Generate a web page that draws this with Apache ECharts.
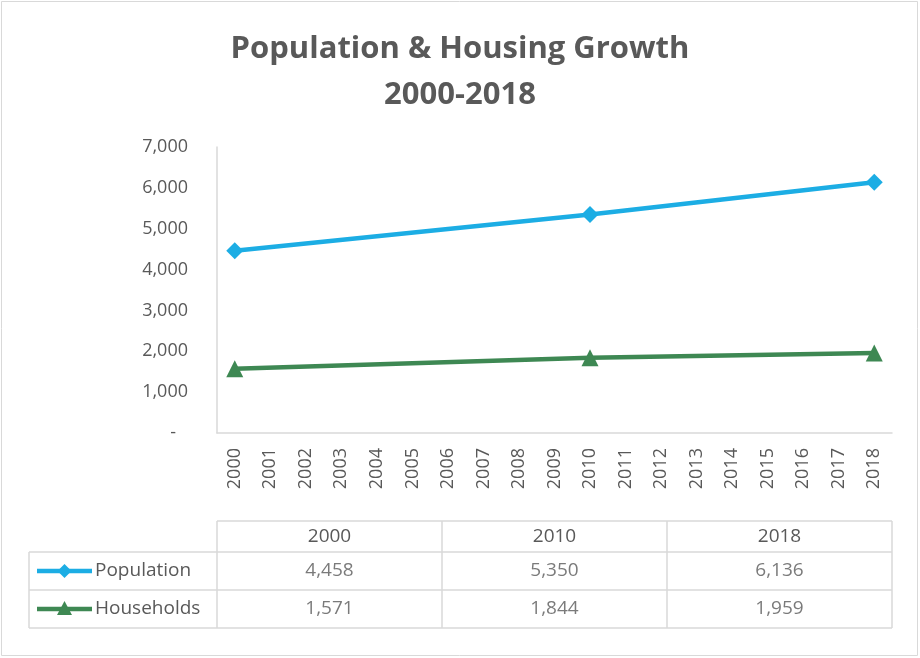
<!DOCTYPE html>
<html>
<head>
<meta charset="utf-8">
<script src="https://cdn.jsdelivr.net/npm/echarts@6/dist/echarts.min.js"></script>
<style>
  html, body { margin: 0; padding: 0; background: #fff; }
  #main { width: 920px; height: 658px; }
</style>
</head>
<body>
<div id="main"></div>
<script>
// axis years shown along the bottom
var years = [];
for (var y = 2000; y <= 2018; y++) years.push(String(y));

// census points
var censusYears = ['2000', '2010', '2018'];
var population = [4458, 5350, 6136];
var households = [1571, 1844, 1959];
var rowNames = ['Population', 'Households'];

var gray = '#595959';
var lineGray = '#d9d9d9';
var popColor = '#1cade4';
var hhColor = '#3e8853';
var font = 'Open Sans';

var chart = echarts.init(document.getElementById('main'));

function fmt(v) { return v.toLocaleString('en-US'); }

// table geometry (grid 1 holds the number cells)
var tLeft = 217, tRight = 892, tHeadTop = 521, tTop = 552, tBottom = 628, legLeft = 29;
var rowH = (tBottom - tTop) / 2;
var colW = (tRight - tLeft) / 3;

var cells = [];
censusYears.forEach(function (yr, i) {
  cells.push([yr, rowNames[0], population[i]]);
  cells.push([yr, rowNames[1], households[i]]);
});

var graphics = [
  { type: 'rect', shape: { x: 1.5, y: 1.5, width: 916, height: 654 },
    style: { fill: null, stroke: lineGray, lineWidth: 1 }, silent: true }
];
function hline(x1, x2, yy) {
  graphics.push({ type: 'line', shape: { x1: x1, y1: yy, x2: x2, y2: yy },
    style: { stroke: lineGray, lineWidth: 1.5 }, silent: true });
}
function vline(xx, y1, y2) {
  graphics.push({ type: 'line', shape: { x1: xx, y1: y1, x2: xx, y2: y2 },
    style: { stroke: lineGray, lineWidth: 1.5 }, silent: true });
}
hline(tLeft, tRight, tHeadTop);
hline(legLeft, tRight, tTop);
hline(legLeft, tRight, tTop + rowH);
hline(legLeft, tRight, tBottom);
vline(legLeft, tTop, tBottom);
for (var c = 0; c <= 3; c++) vline(tLeft + c * colW, tHeadTop, tBottom);

// legend keys in the table
[[popColor, 'diamond'], [hhColor, 'triangle']].forEach(function (k, i) {
  var cy = tTop + rowH * (i + 0.5);
  graphics.push({ type: 'line', shape: { x1: 37, y1: cy, x2: 92, y2: cy },
    style: { stroke: k[0], lineWidth: 4.5 }, silent: true });
  if (k[1] === 'diamond') {
    graphics.push({ type: 'polygon', shape: { points: [[64.5, cy - 7], [71.5, cy], [64.5, cy + 7], [57.5, cy]] },
      style: { fill: k[0] }, silent: true });
  } else {
    graphics.push({ type: 'polygon', shape: { points: [[64.5, cy - 8], [72, cy + 6], [57, cy + 6]] },
      style: { fill: k[0] }, silent: true });
  }
});

chart.setOption({
  animation: false,
  backgroundColor: '#fff',
  title: {
    text: 'Population & Housing Growth\n2000-2018',
    left: 'center',
    top: 21,
    textStyle: { fontFamily: font, fontSize: 31, fontWeight: 'bold', color: gray, lineHeight: 46 }
  },
  grid: [
    { left: 217, right: 28, top: 147, bottom: 225 },
    { left: tLeft, right: 920 - tRight, top: tTop, bottom: 658 - tBottom }
  ],
  xAxis: [
    {
      type: 'category', data: years, boundaryGap: true, gridIndex: 0,
      axisLine: { lineStyle: { color: lineGray, width: 1.5 } },
      axisTick: { show: false },
      axisLabel: { rotate: 90, interval: 0, margin: 15, color: gray, fontFamily: font, fontSize: 18 }
    },
    {
      type: 'category', data: censusYears, gridIndex: 1, position: 'top',
      axisLine: { show: false }, axisTick: { show: false },
      axisLabel: { margin: 6, color: gray, fontFamily: font, fontSize: 19 }
    }
  ],
  yAxis: [
    {
      type: 'value', min: 0, max: 7000, interval: 1000, gridIndex: 0,
      axisLine: { show: true, lineStyle: { color: lineGray, width: 1.5 } },
      axisTick: { show: false },
      splitLine: { show: false },
      axisLabel: {
        margin: 29, color: gray, fontFamily: font, fontSize: 18,
        formatter: function (v) { return v === 0 ? '{d|-}' : fmt(v); },
        rich: { d: { padding: [0, 12, 0, 0], color: gray, fontFamily: font, fontSize: 18 } }
      }
    },
    {
      type: 'category', data: rowNames, inverse: true, gridIndex: 1,
      axisLine: { show: false }, axisTick: { show: false }, splitLine: { show: false },
      axisLabel: { align: 'left', margin: tLeft - 95, color: gray, fontFamily: font, fontSize: 19 }
    }
  ],
  series: [
    {
      name: 'Population', type: 'line', xAxisIndex: 0, yAxisIndex: 0,
      data: censusYears.map(function (yr, i) { return [yr, population[i]]; }),
      color: popColor, lineStyle: { width: 4.5 },
      symbol: 'diamond', symbolSize: 17, showAllSymbol: true
    },
    {
      name: 'Households', type: 'line', xAxisIndex: 0, yAxisIndex: 0,
      data: censusYears.map(function (yr, i) { return [yr, households[i]]; }),
      color: hhColor, lineStyle: { width: 4.5 },
      symbol: 'triangle', symbolSize: 17, showAllSymbol: true
    },
    {
      type: 'scatter', xAxisIndex: 1, yAxisIndex: 1, symbolSize: 0,
      data: cells,
      label: {
        show: true, position: 'inside', color: gray, fontFamily: font, fontSize: 19,
        formatter: function (p) { return fmt(p.value[2]); }
      }
    }
  ],
  graphic: graphics
});
</script>
</body>
</html>
